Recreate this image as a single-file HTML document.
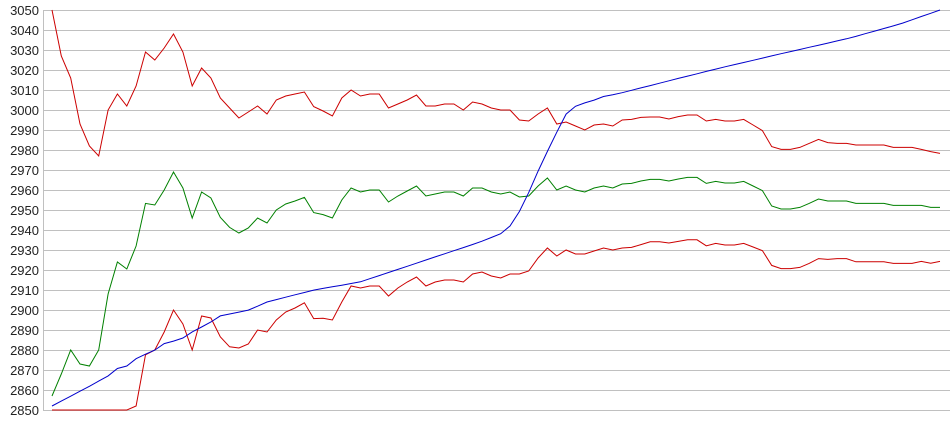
<!DOCTYPE html>
<html><head><meta charset="utf-8"><style>
html,body{margin:0;padding:0;background:#fff;}
svg{display:block;font-family:"Liberation Sans",Arial,sans-serif;}
</style></head><body>
<svg id="c" width="950" height="435" viewBox="0 0 950 435" xmlns="http://www.w3.org/2000/svg">
<g stroke="#c0c0c0" stroke-width="1" shape-rendering="crispEdges">
<line x1="43" y1="10.5" x2="950" y2="10.5"/><line x1="43" y1="30.5" x2="950" y2="30.5"/>
<line x1="43" y1="50.5" x2="950" y2="50.5"/><line x1="43" y1="70.5" x2="950" y2="70.5"/>
<line x1="43" y1="90.5" x2="950" y2="90.5"/><line x1="43" y1="110.5" x2="950" y2="110.5"/>
<line x1="43" y1="130.5" x2="950" y2="130.5"/><line x1="43" y1="150.5" x2="950" y2="150.5"/>
<line x1="43" y1="170.5" x2="950" y2="170.5"/><line x1="43" y1="190.5" x2="950" y2="190.5"/>
<line x1="43" y1="210.5" x2="950" y2="210.5"/><line x1="43" y1="230.5" x2="950" y2="230.5"/>
<line x1="43" y1="250.5" x2="950" y2="250.5"/><line x1="43" y1="270.5" x2="950" y2="270.5"/>
<line x1="43" y1="290.5" x2="950" y2="290.5"/><line x1="43" y1="310.5" x2="950" y2="310.5"/>
<line x1="43" y1="330.5" x2="950" y2="330.5"/><line x1="43" y1="350.5" x2="950" y2="350.5"/>
<line x1="43" y1="370.5" x2="950" y2="370.5"/><line x1="43" y1="390.5" x2="950" y2="390.5"/>
<line x1="43" y1="410.5" x2="950" y2="410.5"/>
<line x1="43.5" y1="10" x2="43.5" y2="411"/>
</g>
<g font-size="13" fill="#222" text-anchor="end">
<text x="39" y="15">3050</text><text x="39" y="35">3040</text><text x="39" y="55">3030</text>
<text x="39" y="75">3020</text><text x="39" y="95">3010</text><text x="39" y="115">3000</text>
<text x="39" y="135">2990</text><text x="39" y="155">2980</text><text x="39" y="175">2970</text>
<text x="39" y="195">2960</text><text x="39" y="215">2950</text><text x="39" y="235">2940</text>
<text x="39" y="255">2930</text><text x="39" y="275">2920</text><text x="39" y="295">2910</text>
<text x="39" y="315">2900</text><text x="39" y="335">2890</text><text x="39" y="355">2880</text>
<text x="39" y="375">2870</text><text x="39" y="395">2860</text><text x="39" y="415">2850</text>
</g>
<polyline id="up" fill="none" stroke="#cc0000" stroke-width="1"/>
<polyline id="lo" fill="none" stroke="#cc0000" stroke-width="1"/>
<polyline id="mid" fill="none" stroke="#008000" stroke-width="1"/>
<polyline id="bl" fill="none" stroke="#0000cc" stroke-width="1"/>
</svg>
<script>
var up=[3050,3027,3016,2993,2982,2977,3000,3008,3002,3012,3029,3025,3031,3038,3029,3012,3021,3016,3006,3001,2996,2999,3002,2998,3005,3007,3008,3009,3001.7,2999.5,2997,3006,3010,3007,3008,3008,3001,3003,3005,3007.5,3002,3002,3003,3003,3000,3004,3003,3001,3000,3000,2995,2994.5,2998,3001,2993,2994,2992,2990,2992.5,2993,2992,2995,2995.3,2996.3,2996.5,2996.5,2995.5,2996.7,2997.5,2997.5,2994.5,2995.3,2994.5,2994.5,2995.3,2992.5,2989.7,2981.7,2980.3,2980.3,2981.3,2983.3,2985.3,2983.7,2983.3,2983.3,2982.5,2982.5,2982.5,2982.5,2981.3,2981.3,2981.3,2980.3,2979.2,2978.3];
var mid=[2857,2868,2880,2873,2872,2880,2908,2924,2920.5,2932,2953.3,2952.5,2960,2969,2961,2946,2959,2956,2946.3,2941.3,2938.5,2941,2946,2943.5,2950,2953,2954.5,2956.3,2948.7,2947.7,2946,2955,2961,2959,2960,2960,2954,2957,2959.5,2962,2957,2958,2959,2959,2957,2961,2961,2959,2958,2959,2956.5,2957,2962,2966,2960,2962,2960,2959,2961,2962,2961,2963,2963.3,2964.5,2965.3,2965.3,2964.5,2965.5,2966.3,2966.3,2963.3,2964.3,2963.5,2963.5,2964.3,2962,2959.7,2952,2950.5,2950.5,2951.3,2953.3,2955.5,2954.5,2954.5,2954.5,2953.3,2953.3,2953.3,2953.3,2952.3,2952.3,2952.3,2952.3,2951.3,2951.3];
var ba=[[52,2852],[71,2857],[90,2862],[108,2867],[118,2871],[127,2872],[137,2876],[155,2880],[165,2883.5],[174,2884.5],[183,2886],[192,2889],[211,2894],[220,2897],[249,2900],[267,2904],[314,2910],[360,2914],[420,2924],[480,2934],[505,2939],[515,2945],[527,2956.7],[540,2971.7],[553,2985],[565,2997.5],[577,3002.5],[593,3004.7],[603,3006.7],[617,3008],[680,3016],[720,3021],[780,3028],[850,3036],[900,3043],[940,3050]];
function Y(v){return 10+(3050-v)*2;}
function X(i){return 52+i*(888/95);}
function bv(x){for(var k=1;k<ba.length;k++){if(x<=ba[k][0]){var a=ba[k-1],b=ba[k];return a[1]+(b[1]-a[1])*(x-a[0])/(b[0]-a[0]);}}return 3050;}
var pu=[],pl=[],pm=[],pb=[];
for(var i=0;i<96;i++){var x=X(i).toFixed(1);var lo=Math.max(2850,2*mid[i]-up[i]);
pu.push(x+","+Y(up[i]));pm.push(x+","+Y(mid[i]));pl.push(x+","+Y(lo));pb.push(x+","+Y(bv(X(i))).toFixed(1));}
document.getElementById("up").setAttribute("points",pu.join(" "));
document.getElementById("lo").setAttribute("points",pl.join(" "));
document.getElementById("mid").setAttribute("points",pm.join(" "));
document.getElementById("bl").setAttribute("points",pb.join(" "));
</script>
</body></html>
